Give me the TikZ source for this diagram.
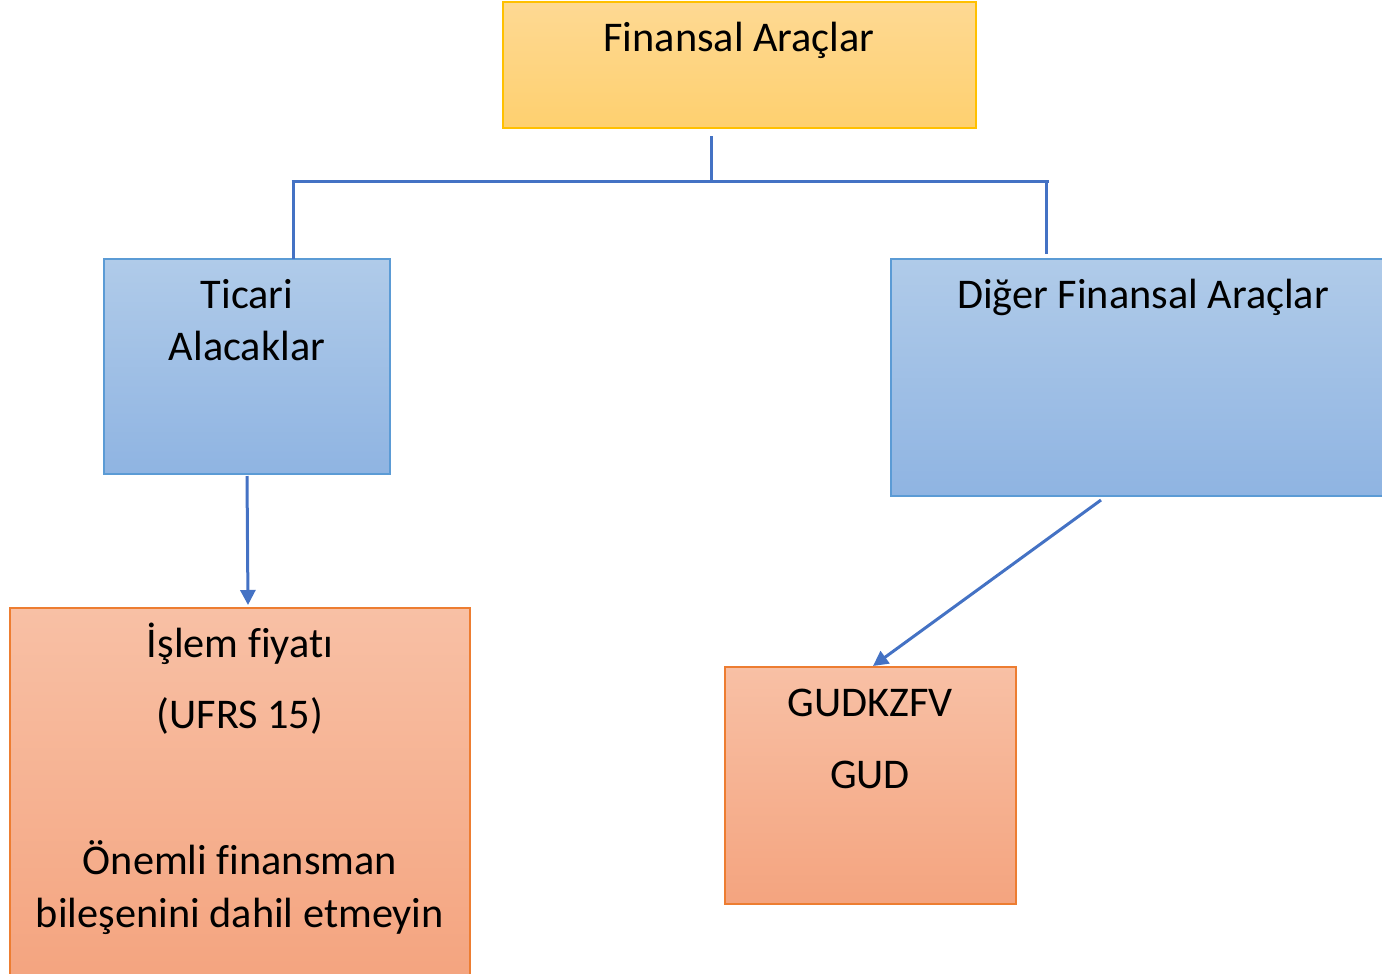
\documentclass[tikz,border=0pt]{standalone}
\usepackage{fontspec}
\setmainfont{Carlito}[Ligatures={NoCommon}]
\usetikzlibrary{arrows.meta}
\definecolor{conncol}{HTML}{4472C4}
\definecolor{yelTop}{HTML}{FED993}
\definecolor{yelBot}{HTML}{FED06F}
\definecolor{yelLine}{HTML}{FFC000}
\definecolor{bluTop}{HTML}{B0CBE9}
\definecolor{bluBot}{HTML}{8FB4E2}
\definecolor{bluLine}{HTML}{5B9BD5}
\definecolor{orgTop}{HTML}{F8C0A5}
\definecolor{orgBot}{HTML}{F4A47F}
\definecolor{orgLine}{HTML}{ED7D31}
\tikzset{
  box/.style={draw, line width=1.5pt, inner sep=0pt, outer sep=0pt},
  yelbox/.style={draw=yelLine, top color=yelTop, bottom color=yelBot},
  blubox/.style={draw=bluLine, top color=bluTop, bottom color=bluBot},
  orgbox/.style={draw=orgLine, top color=orgTop, bottom color=orgBot},
  anchorbox/.style={inner sep=0pt, outer sep=0pt},
  txt/.style={anchor=base, inner sep=0pt, font=\fontsize{42.3}{50}\selectfont, text=black},
  conn/.style={draw=conncol, line width=3pt},
  arr/.style={conn, -{Triangle[length=15pt,width=15pt]}},
}
\begin{document}
\begin{tikzpicture}[x=1pt,y=-1pt]
\useasboundingbox (0,0) rectangle (1382,974);
% boxes
\path[box, yelbox] (503,2) rectangle (976,128);
\node[anchorbox, minimum width=473pt, minimum height=126pt] (fa) at (739.5,65) {};
\path[box, blubox] (104,259) rectangle (390,474);
\node[anchorbox, minimum width=286pt, minimum height=215pt] (tic) at (247,366.5) {};
\path[box, blubox] (891,259) rectangle (1386,496);
\node[anchorbox, minimum width=491pt, minimum height=237pt] (dig) at (1136.5,377.5) {};
\path[box, orgbox] (10,608) rectangle (470,980);
\node[anchorbox, minimum width=460pt, minimum height=366pt] (isl) at (240,791) {};
\path[box, orgbox] (725,667) rectangle (1016,904);
\node[anchorbox, minimum width=291pt, minimum height=237pt] (gud) at (870.5,785.5) {};
% texts
\node[txt] (t1) at (739,52) {Finansal Araçlar};
\node[txt] (t2) at (247,308) {Ticari};
\node[txt] (t3) at (247,360) {Alacaklar};
\node[txt] (t4) at (1143,308) {Diğer Finansal Araçlar};
\node[txt] (t5) at (240,657) {İşlem fiyatı};
\node[txt] (t6) at (240,728) {(UFRS 15)};
\node[txt] (t7) at (240,874) {Önemli finansman};
\node[txt] (t8) at (240,927) {bileşenini dahil etmeyin};
\node[txt] (t9) at (870,716) {GUDKZFV};
\node[txt] (t10) at (870,788) {GUD};
% connectors
\coordinate (jtop) at (711,136);
\coordinate (bus) at (jtop |- 0,181);
\coordinate (bl) at (293,181);
\coordinate (br) at (1047,181);
\draw[conn] (jtop) -- (bus);
\draw[conn] ([xshift=-1.5pt]bl) -- ([xshift=1.5pt]br);
\draw[conn] (bl) -- (bl |- tic.north);
\draw[conn] ([xshift=-1pt]br) -- ([xshift=-1pt,yshift=5pt]br |- dig.north);
\draw[arr] ([yshift=-2pt]tic.south) -- ([xshift=1pt,yshift=3pt]tic.south |- isl.north);
\draw[arr] ([xshift=-35.5pt,yshift=-4pt]dig.south) -- ([xshift=2.5pt,yshift=1pt]gud.north);
\end{tikzpicture}
\end{document}
